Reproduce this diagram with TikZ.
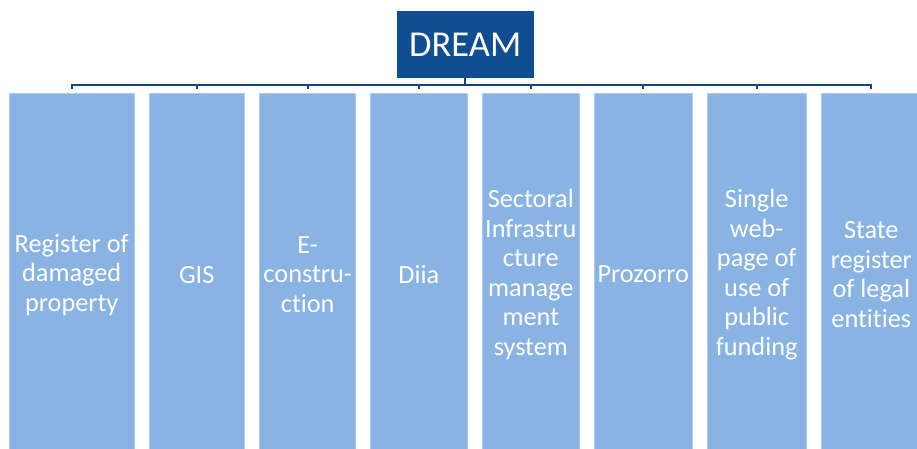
\documentclass[tikz,border=0pt]{standalone}
\usepackage{fontspec}
\setmainfont[Ligatures={NoCommon,NoRare}]{Carlito}
\definecolor{darkblue}{RGB}{17,77,145}
\definecolor{linecol}{RGB}{22,68,128}
\definecolor{lightblue}{RGB}{136,179,226}
\begin{document}
\begin{tikzpicture}[x=1pt,y=-1pt,
  top/.style={rectangle,fill=darkblue,text=white,inner sep=0pt,
    minimum width=137pt,minimum height=66.7pt,
    font=\fontsize{36.5}{40}\selectfont},
  child/.style={rectangle,fill=lightblue,draw=lightblue!70!white,line width=0.6pt,text=white,inner sep=0pt,
    minimum height=362pt,align=center,anchor=north,
    font=\fontsize{26.3}{29.5}\selectfont},
  conn/.style={draw=linecol,line width=2pt}]
\useasboundingbox (0,0) rectangle (917,449);
\clip (0,0) rectangle (917,449);
\fill[white] (0,0) rectangle (917,449);
\node[top] (dream) at (465.2,44.3) {DREAM};
\node[child,minimum width=124.7pt] (b1) at (71.7,93.3) {Register of\\damaged\\property};
\node[child,minimum width=95.3pt] (b2) at (196.7,93.3) {GIS};
\node[child,minimum width=96pt] (b3) at (307.7,93.3) {E-\\constru-\\ction};
\node[child,minimum width=96.3pt] (b4) at (418.9,93.3) {Diia};
\node[child,minimum width=97pt] (b5) at (530.8,93.3) {Sectoral\\Infrastru\\cture\\manage\\ment\\system};
\node[child,minimum width=97.7pt] (b6) at (643.2,93.3) {Prozorro};
\node[child,minimum width=98.7pt] (b7) at (756.7,93.3) {Single\\web-\\page of\\use of\\public\\funding};
\node[child,minimum width=100pt] (b8) at (871.3,93.3) {State\\register\\of legal\\entities};
\foreach \b in {b1,b2,b3,b4,b5,b6,b7,b8}{
  \draw[conn] (dream.south) -- ++(0,7.6) -| ([yshift=4pt]\b.north);
}
\end{tikzpicture}
\end{document}
